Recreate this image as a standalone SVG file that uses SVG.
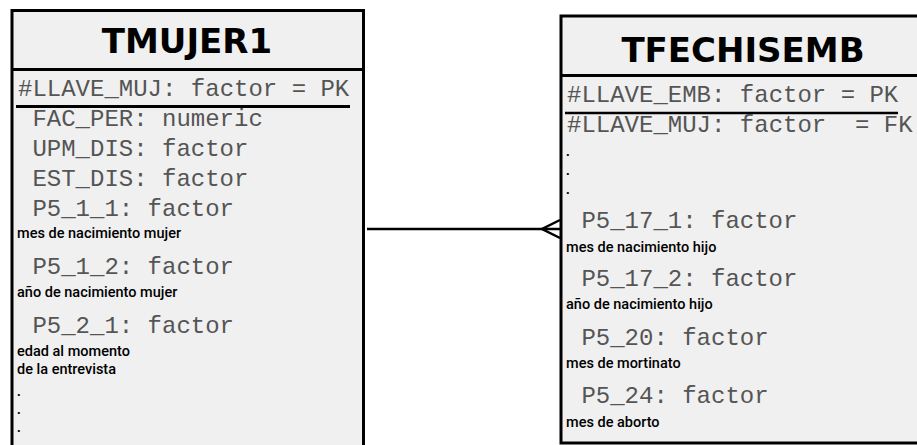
<svg xmlns="http://www.w3.org/2000/svg" width="917" height="445" viewBox="0 0 917 445">
<style>
.box{fill:#f0f0f0;stroke:#000;stroke-width:3}
.sep{stroke:#000;stroke-width:3}
.title{font-family:"DejaVu Sans",Verdana,sans-serif;font-weight:bold;font-size:34px;fill:#000;text-anchor:middle}
.f{font-family:"Liberation Mono","Courier New",monospace;font-size:24px;fill:#555555}
.n{font-family:Roboto,"Liberation Sans",sans-serif;font-weight:500;font-size:14.5px;fill:#000}
.d{font-family:"Liberation Sans",sans-serif;font-size:13px;font-weight:bold;fill:#000}
.c{stroke:#000;stroke-width:2.5;fill:none}
</style>
<rect width="917" height="445" fill="#ffffff"/>
<g id="connectors">
<line class="c" x1="367" y1="229" x2="560" y2="229"/>
<polyline class="c" points="560,220 542,229 560,238"/>
</g>
<g id="node-tmujer1">
<rect class="box" x="12" y="10.5" width="351.5" height="460"/>
<line class="sep" x1="12" y1="69.5" x2="363.5" y2="69.5"/>
<text class="title" x="187" y="53">TMUJER1</text>
<text class="f" x="18" y="96">#LLAVE_MUJ: factor = PK</text>
<line class="sep" x1="16" y1="106.5" x2="350" y2="106.5"/>
<text class="f" x="32.4" y="126">FAC_PER: numeric</text>
<text class="f" x="32.4" y="156">UPM_DIS: factor</text>
<text class="f" x="32.4" y="186">EST_DIS: factor</text>
<text class="f" x="32.4" y="216">P5_1_1: factor</text>
<text class="n" x="17" y="238">mes de nacimiento mujer</text>
<text class="f" x="32.4" y="274">P5_1_2: factor</text>
<text class="n" x="17" y="297">año de nacimiento mujer</text>
<text class="f" x="32.4" y="333">P5_2_1: factor</text>
<text class="n" x="17" y="356">edad al momento</text>
<text class="n" x="17" y="374">de la entrevista</text>
<text class="d" x="17" y="396">.</text>
<text class="d" x="17" y="414">.</text>
<text class="d" x="17" y="432">.</text>
</g>
<g id="node-tfechisemb">
<rect class="box" x="561" y="16" width="400" height="427"/>
<line class="sep" x1="561" y1="75.5" x2="917" y2="75.5"/>
<text class="title" x="743" y="62">TFECHISEMB</text>
<text class="f" x="567" y="102">#LLAVE_EMB: factor = PK</text>
<line class="sep" x1="565" y1="113" x2="898" y2="113" style="stroke-width:2.5"/>
<text class="f" x="567" y="132" xml:space="preserve">#LLAVE_MUJ: factor  = FK</text>
<text class="d" x="566" y="156">.</text>
<text class="d" x="566" y="175">.</text>
<text class="d" x="566" y="194">.</text>
<text class="f" x="581.4" y="228">P5_17_1: factor</text>
<text class="n" x="566" y="252">mes de nacimiento hijo</text>
<text class="f" x="581.4" y="286">P5_17_2: factor</text>
<text class="n" x="566" y="309">año de nacimiento hijo</text>
<text class="f" x="581.4" y="345">P5_20: factor</text>
<text class="n" x="566" y="368">mes de mortinato</text>
<text class="f" x="581.4" y="403">P5_24: factor</text>
<text class="n" x="566" y="427">mes de aborto</text>
</g>
</svg>
